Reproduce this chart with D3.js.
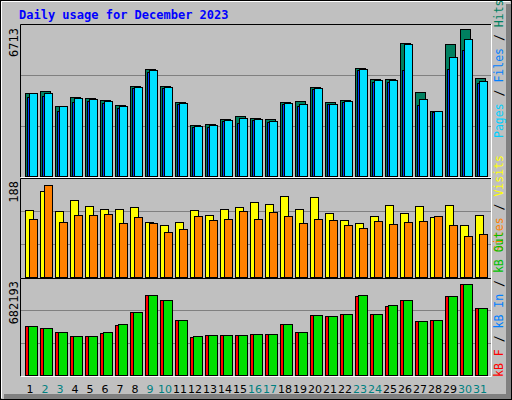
<!DOCTYPE html>
<html><head><meta charset="utf-8">
<script src="https://cdn.jsdelivr.net/npm/d3@7"></script>
<style>body{margin:0;background:#fff}svg{display:block}</style>
</head><body>
<script>
const days = d3.range(1,32).map(String);
const weekend = [2,3,9,10,16,17,23,24,30,31];
const hits  = [3690,3779,3099,3499,3454,3366,3143,3988,4744,3988,3277,2254,2299,2521,2654,2579,2534,3277,3321,3944,3277,3379,4788,4299,4299,5913,3721,2877,5869,6522,4344];
const files = [3690,3677,3099,3454,3410,3321,3099,3944,4699,3944,3232,2210,2254,2476,2565,2521,2432,3232,3188,3899,3188,3321,4744,4255,4255,5855,3410,2877,5277,6078,4224];
const pages = [3512,3570,2890,3303,3334,3246,3023,3912,4624,3912,3201,2179,2179,2445,2356,2490,2401,3201,3112,3868,3201,3290,4713,4179,4179,4713,3143,2845,4744,5602,4121];
const visits= [128,164,126,147,134,130,130,132,105,99,105,128,118,130,132,143,139,154,130,151,122,109,103,116,137,122,134,113,137,99,118];
const sites = [111,175,105,118,118,120,103,113,103,86,92,115,109,111,126,111,124,115,103,111,109,99,94,107,101,105,107,116,99,77,82];
const kbIn  = [347000,330500,302400,274300,274300,295400,351700,443100,562600,527500,386800,267300,281300,281300,281300,288400,288400,358700,302400,422000,415000,429000,555600,429000,485300,527500,379800,386800,555600,640000,471200];
const kbOut = [347000,330500,302400,274300,274300,302400,358700,443100,562600,527500,386800,274300,281300,281300,281300,288400,288400,358700,302400,422000,415000,429000,562600,429000,492300,527500,379800,386800,555600,640000,471200];
const kbF   = [3000,3000,3000,3000,3000,3000,3000,3000,3000,3000,3000,3000,3000,3000,3000,3000,3000,3000,3000,3000,3000,3000,3000,3000,3000,3000,3000,3000,3000,3000,3000];
const maxLabels = [6713,188,682193];

const W=512,H=400;
const svg=d3.select("body").append("svg").attr("width",W).attr("height",H);
svg.append("rect").attr("width",W).attr("height",H).attr("fill","#c0c0c0");
// frame bevel
svg.append("rect").attr("x",0.5).attr("y",0.5).attr("width",W-1).attr("height",H-1).attr("fill","none").attr("stroke","#000");
svg.append("path").attr("d","M1.5,398V1.5H510").attr("stroke","#fff").attr("fill","none");
svg.append("rect").attr("x",506).attr("y",4).attr("width",5).attr("height",395).attr("fill","#808080");
svg.append("rect").attr("x",4).attr("y",394).attr("width",507).attr("height",5).attr("fill","#808080");
svg.append("rect").attr("x",0.5).attr("y",0.5).attr("width",W-1).attr("height",H-1).attr("fill","none").attr("stroke","#000");

svg.append("text").attr("x",19).attr("y",19).text("Daily usage for December 2023")
  .attr("font-family","DejaVu Sans Mono").attr("font-weight","bold").attr("font-size",12).attr("fill","#0000ff");

const x=d3.scaleBand().domain(days).range([21,486]).paddingInner(0);
const x0=d=>Math.round(x(d))+4;

const panels=[
 {top:25,bottom:176,max:maxLabels[0]},
 {top:178,bottom:277,max:maxLabels[1]},
 {top:278,bottom:375,max:maxLabels[2]}];
const L=20,R=491;
const ys=panels.map(p=>d3.scaleLinear().domain([0,p.max]).range([p.bottom,p.top]));

panels.forEach((p,i)=>{
  const t=p.top-(i==0?1:0);
  svg.append("path").attr("d",`M${L+0.5},${p.bottom+1}V${t+0.5}H${R}`).attr("stroke","#000").attr("fill","none");
  svg.append("path").attr("d",`M${L+1},${p.bottom+1.5}H${R+0.5}V${t}`).attr("stroke","#fff").attr("fill","none");
  const y=ys[i];
  const step=(p.bottom-p.top)/3;
  [1,2].forEach(k=>svg.append("line").attr("x1",L+1).attr("x2",R).attr("y1",Math.round(p.bottom-k*step*(i==0?151/151:1))+0.5).attr("y2",Math.round(p.bottom-k*step)+0.5).attr("stroke","#808080"));
  svg.append("text").attr("transform",`translate(18,${p.top+3}) rotate(-90)`).attr("text-anchor","end")
    .text(String(p.max)).attr("font-family","DejaVu Sans Mono").attr("font-size",12).attr("fill","#000");
});

function bars(data,y,dx,w,color){
  svg.append("g").selectAll("rect").data(data).join("rect")
   .attr("x",(d,i)=>x0(days[i])+dx+0.5).attr("width",w)
   .attr("y",d=>Math.round(y(d))+0.5).attr("height",d=>Math.max(0,y(0)-Math.round(y(d))))
   .attr("fill",color).attr("stroke","#000");
}
bars(hits,ys[0],0,10,"#008060");
bars(pages,ys[0],2,9,"#0040ff");
bars(files,ys[0],4,8,"#00e0ff");
bars(visits,ys[1],0,8,"#ffff00");
bars(sites,ys[1],4,8,"#ff8000");
bars(kbIn,ys[2],0,9,"#ff0000");
bars(kbOut,ys[2],3,9,"#00e000");
bars(kbF,ys[2],1,1,"#000");

svg.append("g").selectAll("text").data(days).join("text")
  .attr("x",d=>x0(d)+5).attr("y",393).attr("text-anchor","middle").text(d=>d)
  .attr("font-family","DejaVu Sans").attr("font-size",11)
  .attr("fill",d=>weekend.includes(+d)?"#008080":"#000");

function sideLabel(yEnd,parts){
  const t=svg.append("text").attr("transform",`translate(503,${yEnd}) rotate(-90)`)
    .attr("font-family","DejaVu Sans Mono").attr("font-size",11.5);
  parts.forEach(([s,c])=>t.append("tspan").text(s).attr("fill",c));
}
sideLabel(138,[["Pages","#00d0ff"],[" / ","#000"],["Files","#0080ff"],[" / ","#000"],["Hits","#008060"]]);
sideLabel(252,[["Sites","#ff8000"],[" / ","#000"],["Visits","#ffff00"]]);
sideLabel(377,[["kB F","#ff0000"],[" / ","#000"],["kB In","#0080ff"],[" / ","#000"],["kB Out","#00c000"]]);
</script>
</body></html>
